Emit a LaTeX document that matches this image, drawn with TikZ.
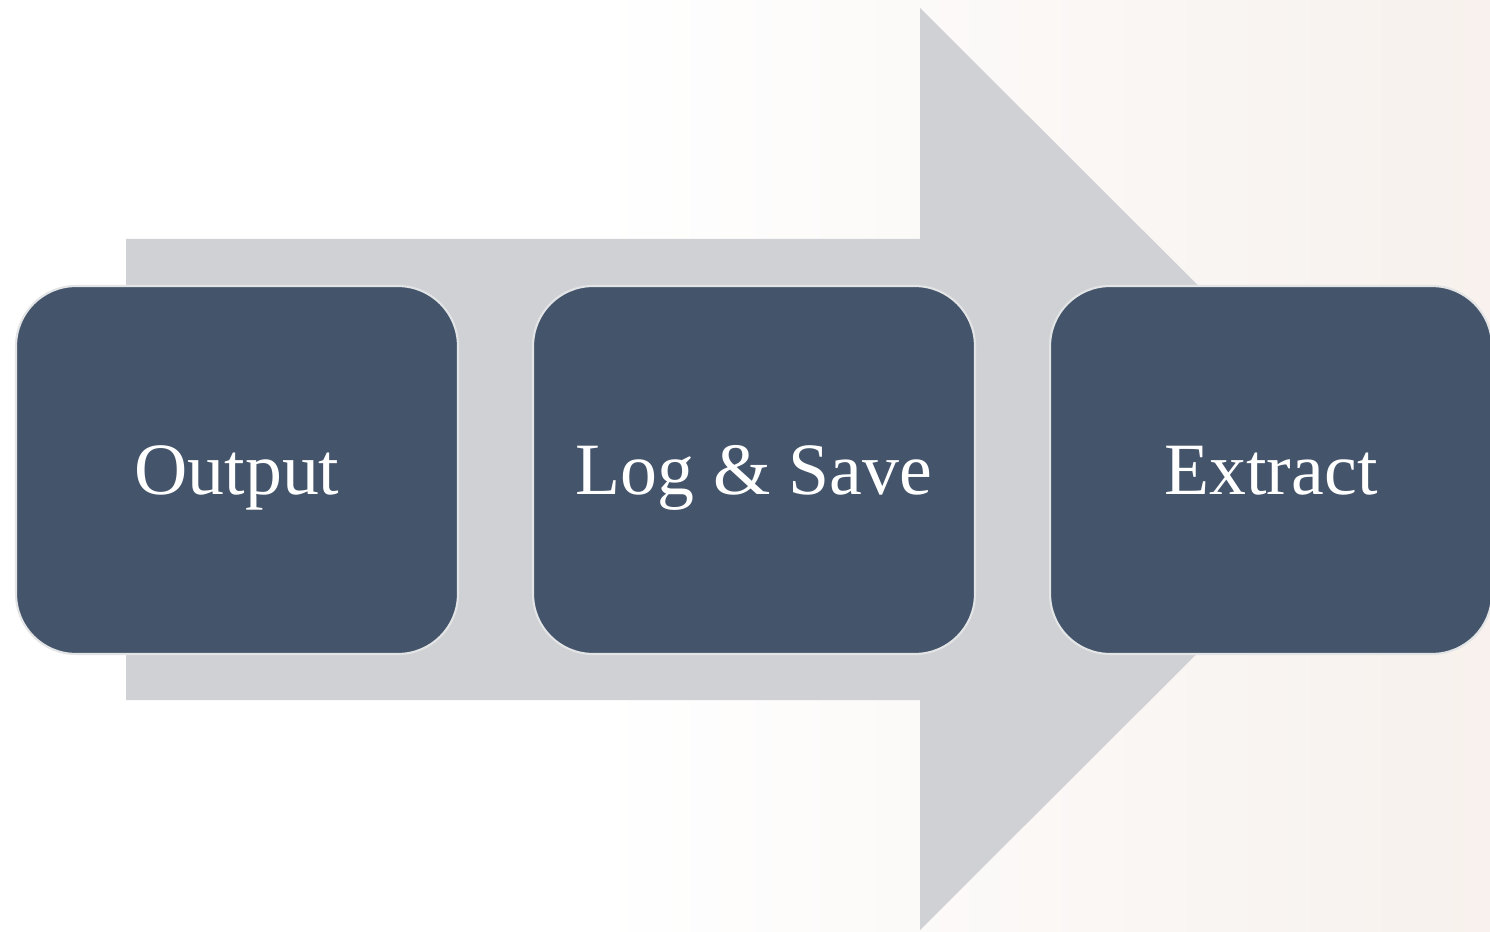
\documentclass[tikz,border=0pt]{standalone}
\usepackage{fontspec}
\setmainfont{Liberation Serif}
\definecolor{diagramBox}{HTML}{44546A}
\definecolor{diagramBoxLine}{HTML}{E3E4E6}
\definecolor{diagramArrow}{HTML}{D0D1D5}
\definecolor{diagramBgWarm}{HTML}{F8E8DC}
\definecolor{diagramBgMid}{HTML}{F8F3F0}
\pgfdeclarehorizontalshading{diagramBackdrop}{100bp}{color(0bp)=(white); color(45bp)=(white); color(70bp)=(diagramBgMid); color(100bp)=(diagramBgWarm)}
\begin{document}
\begin{tikzpicture}[
    x=0.02cm,y=-0.02cm,
    every node/.style={font=\fontsize{42}{50}\selectfont,align=center},
    stage/.style={draw=diagramBoxLine,line width=1.2pt,fill=diagramBox,text=white,rounded corners=1.2cm,minimum width=8.84cm,minimum height=7.36cm,inner sep=0pt,text height=1cm,text depth=0pt},
    band/.style={fill=diagramArrow,draw=none}
]
\useasboundingbox (0,0) rectangle (1490,932);
\clip (0,0) rectangle (1490,932);
\shade[shading=diagramBackdrop] (0,0) rectangle (1490,932);
\fill[band] (126,239) -- (920,239) -- (920,8) -- (1382,469) -- (920,930) -- (920,700) -- (126,700) -- cycle;
\node[stage] (output) at (237,470) {Output};
\node[stage] (logsave) at (754,470) {Log \& Save};
\node[stage] (extract) at (1271,470) {Extract};
\end{tikzpicture}
\end{document}
